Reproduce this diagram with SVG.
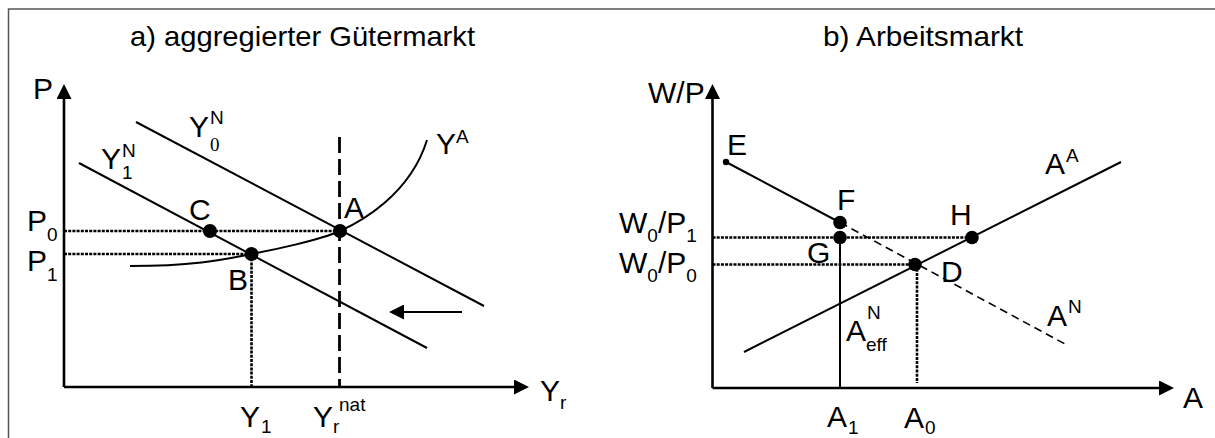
<svg xmlns="http://www.w3.org/2000/svg" width="1215" height="438" viewBox="0 0 1215 438">
<style>
text{font-family:"Liberation Sans",Arial,sans-serif;fill:#000}
.t{font-size:30px}
.title{font-size:28px}
.s{font-size:19px}
.ser{font-family:"Liberation Serif","Times New Roman",serif;font-size:19px}
.ln{stroke:#000;stroke-width:2;fill:none}
.ax{stroke:#000;stroke-width:2.6;fill:none}
.dot{stroke:#000;stroke-width:2.6;stroke-dasharray:3 1.2;fill:none}
.dash{stroke:#000;stroke-width:2.8;stroke-dasharray:16 6;fill:none}
.dsh{stroke:#000;stroke-width:1.6;stroke-dasharray:8 5;fill:none}
.pt{fill:#000}
</style>
<defs>
<marker id="arr" viewBox="0 0 16 16" markerWidth="16" markerHeight="15" markerUnits="userSpaceOnUse" refX="0" refY="8" orient="auto">
<path d="M0,0 L16,8 L0,16 z" fill="#000"/>
</marker>
</defs>
<rect width="1215" height="438" fill="#fff"/>
<g id="frame">
<path d="M8.5,438 V9 H1215" stroke="#555" stroke-width="1.5" fill="none"/>
</g>
<g id="titles">
<text class="title" x="130" y="46" textLength="345" lengthAdjust="spacingAndGlyphs">a) aggregierter Gütermarkt</text>
<text class="title" x="823" y="46" textLength="200" lengthAdjust="spacingAndGlyphs">b) Arbeitsmarkt</text>
</g>
<g id="connectors">
<line class="ax" x1="64" y1="387" x2="64" y2="99" marker-end="url(#arr)"/>
<line class="ax" x1="64" y1="387" x2="514" y2="387" marker-end="url(#arr)"/>
<line class="ln" x1="136" y1="122" x2="484" y2="306"/>
<line class="ln" x1="79" y1="163" x2="427" y2="348"/>
<path class="ln" d="M130,266 C200,266 230,258 251.5,254 S320,240 340,231 S410,195 427,140"/>
<line class="dash" x1="339.5" y1="137" x2="339.5" y2="387"/>
<line class="dot" x1="64" y1="231" x2="340" y2="231"/>
<line class="dot" x1="64" y1="254" x2="251.5" y2="254"/>
<line class="dot" x1="251.5" y1="254" x2="251.5" y2="386"/>
<line class="ln" x1="462" y1="312" x2="404" y2="312" marker-end="url(#arr)"/>
<line class="ax" x1="712.5" y1="388" x2="712.5" y2="99" marker-end="url(#arr)"/>
<line class="ax" x1="712.5" y1="388" x2="1159" y2="388" marker-end="url(#arr)"/>
<line class="ln" x1="726" y1="162" x2="840" y2="222.5"/>
<line class="dsh" x1="840" y1="222.5" x2="1065" y2="344"/>
<line class="ln" x1="744" y1="352" x2="1121" y2="162"/>
<line class="dot" x1="712.5" y1="237.5" x2="972" y2="237.5"/>
<line class="dot" x1="712.5" y1="264.5" x2="915" y2="264.5"/>
<line class="ln" x1="840" y1="237.5" x2="840" y2="388"/>
<line class="dot" x1="917" y1="264.5" x2="917" y2="383"/>
</g>
<g id="label-P"><text class="t" x="33" y="99">P</text></g>
<g id="label-Y0N"><text class="t" x="189" y="137">Y</text><text class="s" x="210" y="124">N</text><text class="ser" x="210" y="151">0</text></g>
<g id="label-Y1N"><text class="t" x="101" y="169">Y</text><text class="s" x="122" y="157">N</text><text class="s" x="122" y="179">1</text></g>
<g id="label-YA"><text class="t" x="436" y="154">Y</text><text class="s" x="456" y="143">A</text></g>
<g id="node-C"><circle class="pt" cx="210" cy="231" r="7"/><text class="t" x="189" y="220">C</text></g>
<g id="node-A"><circle class="pt" cx="340" cy="231" r="7"/><text class="t" x="344" y="218">A</text></g>
<g id="node-B"><circle class="pt" cx="251.5" cy="254" r="7"/><text class="t" x="228" y="290">B</text></g>
<g id="label-P0"><text class="t" x="27" y="231">P</text><text class="s" x="47" y="241">0</text></g>
<g id="label-P1"><text class="t" x="27" y="271">P</text><text class="s" x="47" y="281">1</text></g>
<g id="label-Y1"><text class="t" x="240" y="427">Y</text><text class="s" x="261" y="433">1</text></g>
<g id="label-Yrnat"><text class="t" x="313" y="427">Y</text><text class="s" x="333" y="433">r</text><text class="s" x="339" y="411">nat</text></g>
<g id="label-Yr"><text class="t" x="540" y="401">Y</text><text class="s" x="560" y="409">r</text></g>
<g id="label-WP"><text class="t" x="648" y="103">W/P</text></g>
<g id="label-W0P1"><text class="t" x="619" y="233">W<tspan class="s" dy="9">0</tspan><tspan dy="-9">/P</tspan><tspan class="s" dy="9">1</tspan></text></g>
<g id="label-W0P0"><text class="t" x="619" y="273">W<tspan class="s" dy="9">0</tspan><tspan dy="-9">/P</tspan><tspan class="s" dy="9">0</tspan></text></g>
<g id="node-E"><circle class="pt" cx="726" cy="162" r="3.2"/><text class="t" x="727" y="155">E</text></g>
<g id="node-F"><circle class="pt" cx="840" cy="222.5" r="6.8"/><text class="t" x="837" y="210">F</text></g>
<g id="node-G"><circle class="pt" cx="840" cy="237.5" r="6.8"/><text class="t" x="807" y="263">G</text></g>
<g id="node-H"><circle class="pt" cx="972" cy="237.5" r="6.8"/><text class="t" x="950" y="225">H</text></g>
<g id="node-D"><circle class="pt" cx="915" cy="264.5" r="6.8"/><text class="t" x="941" y="282">D</text></g>
<g id="label-AA"><text class="t" x="1045" y="174">A</text><text class="s" x="1066" y="162">A</text></g>
<g id="label-AN"><text class="t" x="1047" y="326">A</text><text class="s" x="1068" y="313">N</text></g>
<g id="label-ANeff"><text class="t" x="846" y="341">A</text><text class="s" x="867" y="319">N</text><text class="s" x="866" y="351">eff</text></g>
<g id="label-A1"><text class="t" x="827" y="427">A</text><text class="s" x="848" y="434">1</text></g>
<g id="label-A0"><text class="t" x="904" y="428">A</text><text class="s" x="925" y="434">0</text></g>
<g id="label-A"><text class="t" x="1183" y="408">A</text></g>
</svg>
